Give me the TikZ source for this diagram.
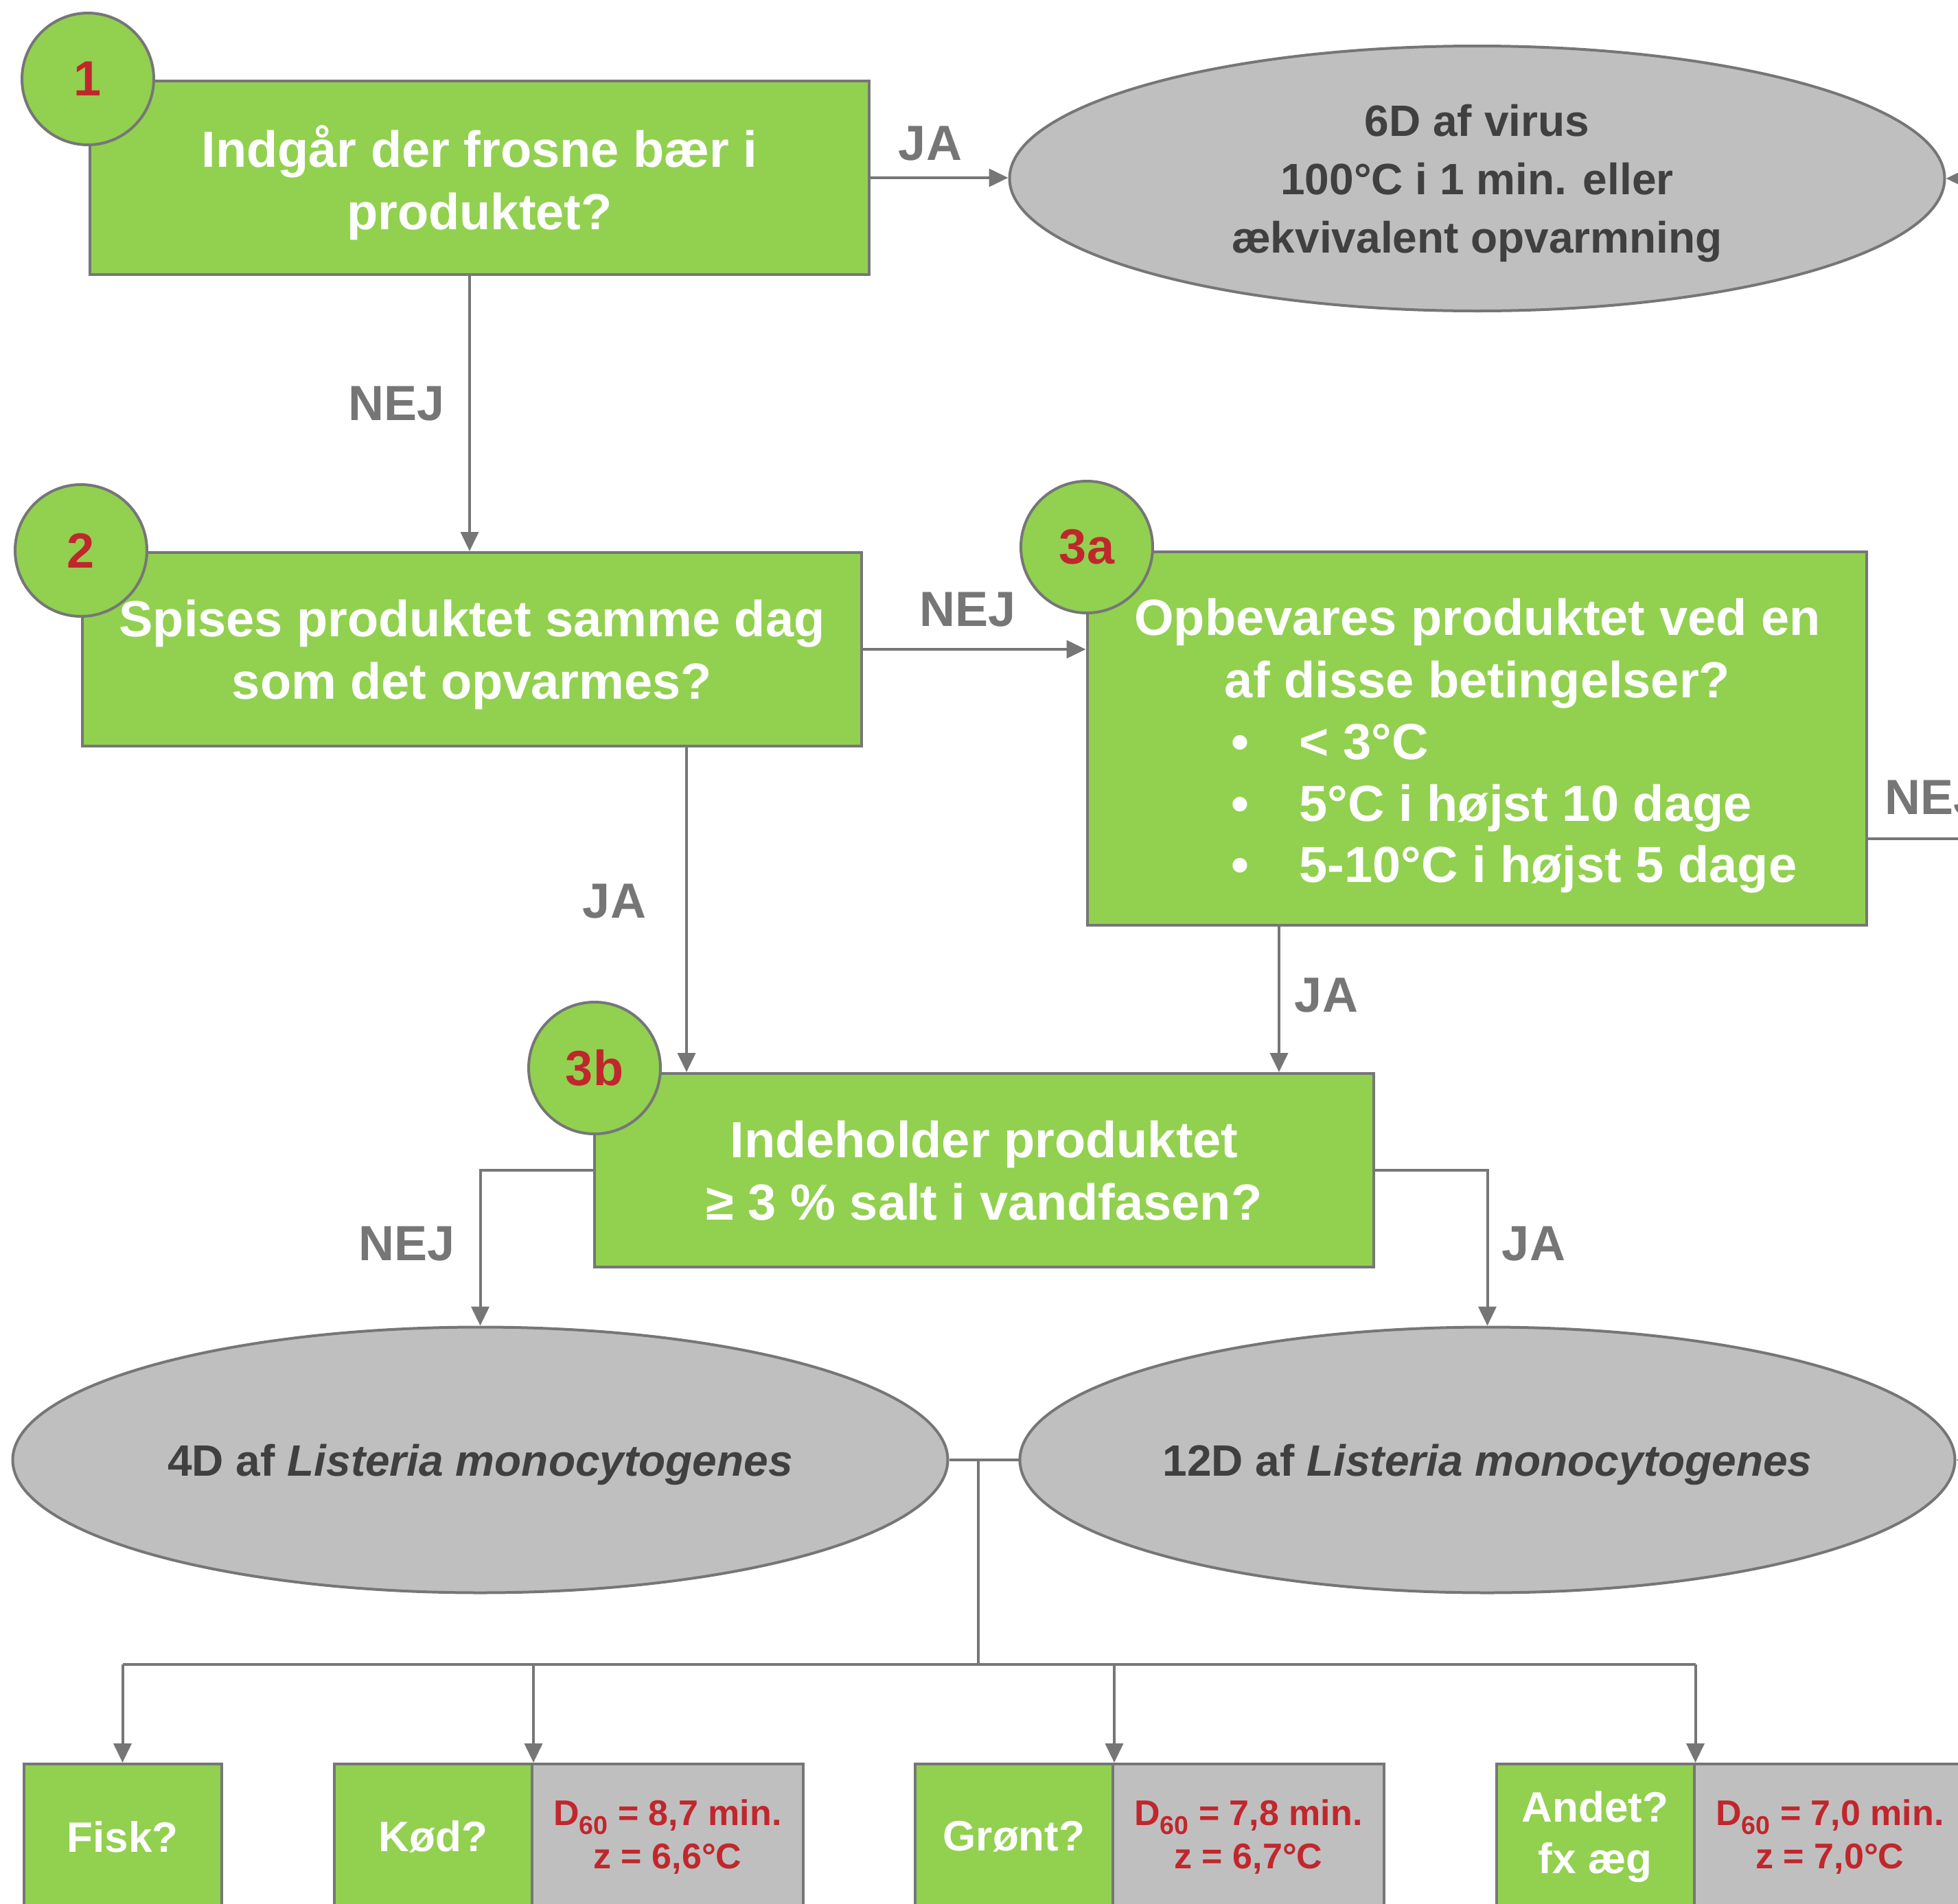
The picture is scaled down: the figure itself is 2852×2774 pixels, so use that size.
\documentclass[tikz,border=0pt]{standalone}
\usepackage{fontspec}
\setmainfont{Liberation Sans}
\usetikzlibrary{shapes.geometric,arrows.meta}
\definecolor{boxgreen}{HTML}{92D050}
\definecolor{ellgray}{HTML}{BFBFBF}
\definecolor{linegray}{HTML}{767676}
\definecolor{numred}{HTML}{C0272D}
\definecolor{elltext}{HTML}{404040}
\newcommand{\subsix}{\raisebox{-3.25pt}{\fontsize{9.4}{9.4}\selectfont 60}}
\begin{document}
\begin{tikzpicture}[x=0.25pt,y=-0.25pt,
  qbox/.style={draw=linegray, line width=1pt, fill=boxgreen, text=white,
    font=\bfseries\fontsize{18.5}{22.75}\selectfont, align=center, inner sep=0pt,
    minimum width=283.75pt, minimum height=70.5pt, text depth=0pt},
  qtext/.style={text=white, font=\bfseries\fontsize{18.5}{22.75}\selectfont, align=center, inner sep=0pt},
  numcirc/.style={circle, draw=linegray, line width=1pt, fill=boxgreen, text=numred,
    font=\bfseries\fontsize{18}{18}\selectfont, minimum size=48pt, inner sep=0pt},
  ell/.style={ellipse, draw=linegray, line width=1pt, fill=ellgray, text=elltext,
    font=\bfseries\fontsize{16}{21.25}\selectfont, align=center, inner sep=0pt,
    minimum width=340.5pt, minimum height=96.75pt, text depth=0pt},
  lab/.style={text=linegray, font=\bfseries\fontsize{18}{18}\selectfont, inner sep=0pt},
  line/.style={draw=linegray, line width=1pt},
  conn/.style={draw=linegray, line width=1pt, -{Triangle[length=7pt,width=6.5pt]}},
  sgreen/.style={draw=linegray, line width=1pt, fill=boxgreen, text=white,
    font=\bfseries\fontsize{15.5}{18.75}\selectfont, align=center, inner sep=0pt,
    minimum width=72pt, minimum height=53pt},
  sgray/.style={draw=linegray, line width=1pt, fill=ellgray, text=numred,
    font=\bfseries\fontsize{13}{15.75}\selectfont, align=center, inner sep=0pt,
    minimum width=98.75pt, minimum height=53pt}
]
\useasboundingbox (0,0) rectangle (2852,2774);
\clip (0,0) rectangle (2852,2774);

% main boxes
\node[qbox] (b1) at (698.5,259) {Indgår der frosne bær i\\produktet?};
\node[qbox] (b2) at (687.5,946) {Spises produktet samme dag\\som det opvarmes?};
\node[qbox, minimum height=136pt] (b3a) at (2151,1076) {};
\node[qtext] (t3a) at (2152,952) {Opbevares produktet ved en\\af disse betingelser?};
\node[qtext, anchor=base west] (bl1) at (1793,1106) {\makebox[24.75pt][l]{•}< 3°C};
\node[qtext, anchor=base west] (bl2) at (1793,1196) {\makebox[24.75pt][l]{•}5°C i højst 10 dage};
\node[qtext, anchor=base west] (bl3) at (1793,1285) {\makebox[24.75pt][l]{•}5-10°C i højst 5 dage};
\node[qbox] (b3b) at (1433.5,1705) {Indeholder produktet\\≥ 3 \% salt i vandfasen?};

% ellipses
\node[ell, minimum height=96.5pt] (e1) at (2151.5,260) {6D af virus\\100°C i 1 min. eller\\ækvivalent opvarmning};
\node[ell] (e2) at (699.5,2127) {4D af \textit{Listeria monocytogenes}};
\node[ell] (e3) at (2166.5,2127) {12D af \textit{Listeria monocytogenes}};

% bottom boxes
\node[sgreen] (fisk) at (178.5,2676) {Fisk?};
\node[sgreen] (kod) at (631,2676) {Kød?};
\node[sgray] (kodv) at (972.5,2676) {D\subsix{} = 8,7 min.\\z = 6,6°C};
\node[sgreen] (gront) at (1477,2676) {Grønt?};
\node[sgray] (grontv) at (1818.5,2676) {D\subsix{} = 7,8 min.\\z = 6,7°C};
\node[sgreen] (andet) at (2323.5,2676) {Andet?\\fx æg};
\node[sgray] (andetv) at (2665.5,2676) {D\subsix{} = 7,0 min.\\z = 7,0°C};

% number circles
\node[numcirc] (n1) at (128,115) {1};
\node[numcirc] (n2) at (118,802) {2};
\node[numcirc] (n3a) at (1583,797) {3a};
\node[numcirc] (n3b) at (866,1556) {3b};

% helper coordinates
\coordinate (c1) at (684,0);
\coordinate (c2) at (1000,0);
\coordinate (c3) at (1863,0);
\coordinate (rin) at (2920,260);
\coordinate (rout) at (2920,1222);
\coordinate (rin2) at (2920,2130);
\coordinate (j) at (1425,2127);
\coordinate (hb) at (1425,2425);

% connectors
\draw[conn] (b1.east) -- (b1.east -| e1.west);
\draw[conn] (rin) -- (e1.east);
\draw[conn] (b1.south -| c1) -- (b2.north -| c1);
\draw[conn] (b2.east) -- (b2.east -| b3a.west);
\draw[line] (b3a.east |- rout) -- (rout);
\draw[conn] (b2.south -| c2) -- (b3b.north -| c2);
\draw[conn] (b3a.south -| c3) -- (b3b.north -| c3);
\draw[conn] (b3b.west) -| (e2.north);
\draw[conn] (b3b.east) -| (e3.north);
\draw[conn] (rin2) -- (e3.east);
\draw[line] (e2.east) -- (e3.west);
\draw[line] (j) -- (hb);
\draw[line] (fisk.north |- hb) -- (andet.north east |- hb);
\draw[conn] (fisk.north |- hb) -- (fisk.north);
\draw[conn] (kod.north east |- hb) -- (kod.north east);
\draw[conn] (gront.north east |- hb) -- (gront.north east);
\draw[conn] (andet.north east |- hb) -- (andet.north east);

% labels
\node[lab] (l1) at (1355,209) {JA};
\node[lab] (l2) at (578,588) {NEJ};
\node[lab] (l3) at (1410,888) {NEJ};
\node[lab] (l4) at (895,1313) {JA};
\node[lab] (l5) at (1932,1450) {JA};
\node[lab] (l6) at (593,1812) {NEJ};
\node[lab] (l7) at (2234,1812) {JA};
\node[lab, anchor=west] (l8) at (2745,1162) {NEJ};
\end{tikzpicture}
\end{document}
